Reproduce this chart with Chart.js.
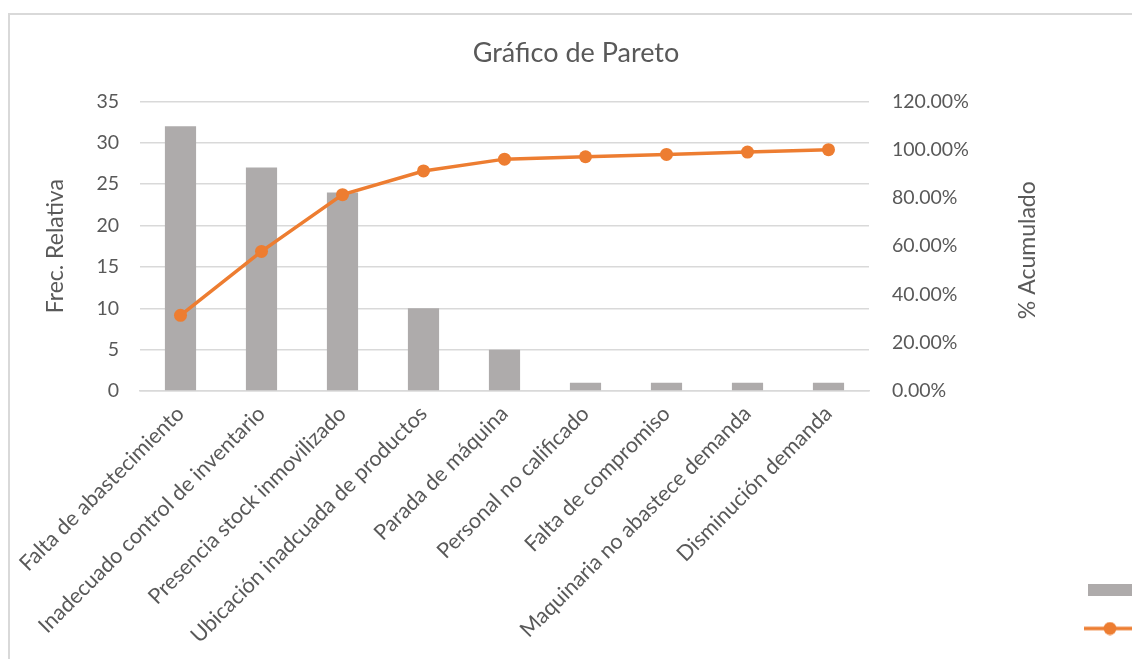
<!DOCTYPE html>
<html>
<head>
<meta charset="utf-8">
<script src="https://cdn.jsdelivr.net/npm/chart.js@4/dist/chart.umd.min.js"></script>
<style>
  html, body { margin: 0; padding: 0; background: #fff; overflow: hidden; }
  body { width: 1132px; height: 659px; position: relative; }
  #frame { position: absolute; left: 8px; top: 13px; width: 1300px; height: 800px; border: 2px solid #d9d9d9; }
  #wrap { position: absolute; left: 0; top: 0; width: 1152px; height: 659px; }
</style>
</head>
<body>
<div id="frame"></div>
<div id="wrap"><canvas id="myChart" width="1152" height="659"></canvas></div>
<script>
// datos
const causas = [
	"Falta de abastecimiento",
	"Inadecuado control de inventario",
	"Presencia stock inmovilizado",
	"Ubicación inadcuada de productos",
	"Parada de máquina",
	"Personal no calificado",
	"Falta de compromiso",
	"Maquinaria no abastece demanda",
	"Disminución demanda"
];
const frecuencia = [32, 27, 24, 10, 5, 1, 1, 1, 1];
const acumulado = [0.3137, 0.5784, 0.8137, 0.9118, 0.9608, 0.9706, 0.9804, 0.9902, 1.0];
const ticksIzq = [0, 5, 10, 15, 20, 25, 30, 35];
const ticksDer = [0, 0.2, 0.4, 0.6, 0.8, 1.0, 1.2];

const gris = '#aeabab';
const naranja = '#ed7d31';
const texto = '#595959';
const fuente = 'Lato';

// marcadores de leyenda
const boxBar = document.createElement('canvas');
boxBar.width = 44; boxBar.height = 12;
let c = boxBar.getContext('2d');
c.fillStyle = gris;
c.fillRect(0, 0, 44, 12);

const boxLine = document.createElement('canvas');
boxLine.width = 52; boxLine.height = 14;
c = boxLine.getContext('2d');
c.strokeStyle = naranja;
c.lineWidth = 3.5;
c.beginPath(); c.moveTo(0, 7); c.lineTo(52, 7); c.stroke();
c.fillStyle = naranja;
c.beginPath(); c.arc(26, 7, 6.5, 0, Math.PI * 2); c.fill();

// titulo del eje derecho, de abajo hacia arriba como en Excel
const tituloDerecho = {
	id: 'tituloDerecho',
	afterDraw(chart) {
		const s = chart.scales.y1;
		const ctx = chart.ctx;
		ctx.save();
		ctx.translate(s.left + 159, (s.top + s.bottom) / 2 + 4);
		ctx.rotate(-Math.PI / 2);
		ctx.font = '23px ' + fuente;
		ctx.fillStyle = texto;
		ctx.textAlign = 'center';
		ctx.textBaseline = 'middle';
		ctx.fillText('% Acumulado', 0, 0);
		ctx.restore();
	}
};

const ctx = document.getElementById('myChart');
const myChart = new Chart(ctx, {
	type: 'bar',
	data: {
		labels: causas,
		datasets: [{
			label: 'Frec. Relativa',
			data: frecuencia,
			backgroundColor: gris,
			yAxisID: 'y',
			order: 2,
			barPercentage: 1,
			categoryPercentage: 0.385
		}, {
			type: 'line',
			label: '% Acumulado',
			data: acumulado,
			borderColor: naranja,
			backgroundColor: naranja,
			borderWidth: 3.5,
			pointRadius: 6.5,
			pointHoverRadius: 6.5,
			pointBackgroundColor: naranja,
			pointBorderWidth: 0,
			tension: 0,
			yAxisID: 'y1',
			order: 1
		}]
	},
	options: {
		responsive: false,
		animation: false,
		layout: { padding: 0 },
		plugins: {
			title: {
				display: true,
				text: 'Gráfico de Pareto',
				color: texto,
				font: { family: fuente, size: 27, weight: 'normal' },
				padding: { top: 37, bottom: 32 }
			},
			legend: {
				position: 'right',
				align: 'end',
				maxWidth: 86,
				labels: {
					usePointStyle: true,
					pointStyleWidth: 44,
					padding: 22,
					color: texto,
					font: { family: fuente, size: 17 },
					generateLabels(chart) {
						return chart.data.datasets.map((ds, i) => ({
							text: ds.label,
							pointStyle: i === 0 ? boxBar : boxLine,
							fillStyle: ds.backgroundColor,
							strokeStyle: ds.backgroundColor,
							lineWidth: 0,
							hidden: false,
							datasetIndex: i
						}));
					}
				}
			},
			tooltip: { enabled: false }
		},
		scales: {
			x: {
				grid: { display: false, drawTicks: false },
				border: { color: '#d9d9d9', width: 1.5 },
				ticks: {
					color: texto,
					font: { family: fuente, size: 21.5 },
					minRotation: 45,
					maxRotation: 45,
					autoSkip: false,
					padding: 10
				},
				afterFit(s) { s.height = 268; }
			},
			y: {
				position: 'left',
				min: 0,
				max: 35,
				afterBuildTicks(s) { s.ticks = ticksIzq.map(v => ({ value: v })); },
				grid: { color: '#d9d9d9', lineWidth: 1.5, drawTicks: false },
				border: { display: false },
				ticks: {
					color: texto,
					font: { family: fuente, size: 19.5 },
					padding: 21
				},
				title: {
					display: true,
					text: 'Frec. Relativa',
					color: texto,
					font: { family: fuente, size: 23 },
					padding: { top: 42, bottom: 0 }
				},
				afterFit(s) { s.width = 140; }
			},
			y1: {
				position: 'right',
				min: 0,
				max: 1.2,
				afterBuildTicks(s) { s.ticks = ticksDer.map(v => ({ value: v })); },
				grid: { display: false, drawTicks: false },
				border: { display: false },
				ticks: {
					color: texto,
					font: { family: fuente, size: 19.5 },
					padding: 23,
					callback: v => (v * 100).toFixed(2) + '%'
				},
				afterFit(s) { s.width = 197; }
			}
		}
	},
	plugins: [tituloDerecho]
});
</script>
</body>
</html>
